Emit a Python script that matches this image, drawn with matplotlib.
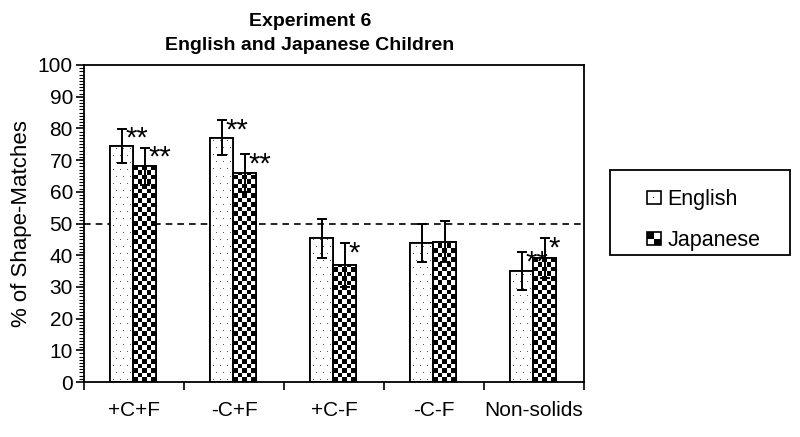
import numpy as np
import matplotlib
matplotlib.use("Agg")
import matplotlib.pyplot as plt
from matplotlib.patches import Rectangle
from matplotlib.legend_handler import HandlerBase

plt.rcParams['font.family'] = ['Liberation Sans', 'DejaVu Sans']

categories = ["+C+F", "-C+F", "+C-F", "-C-F", "Non-solids"]
english = [74.4, 77.1, 45.3, 43.7, 35.0]
english_err = [5.4, 5.4, 6.2, 6.0, 5.9]
japanese = [68.1, 65.8, 36.9, 44.3, 39.0]
japanese_err = [5.8, 6.0, 6.8, 6.5, 6.3]
english_sig = ["**", "**", "", "", "**"]
japanese_sig = ["**", "**", "*", "", "*"]
chance = 50
yticks = list(range(0, 101, 10))

fig = plt.figure(figsize=(8, 4.37), dpi=100)
ax = fig.add_axes([84/800, 1-382/437, 500/800, 317/437])

x = np.arange(len(categories))
w = 0.23
xe = x - 0.125
xj = x + 0.105

bars_e = ax.bar(xe, english, w, facecolor='white', edgecolor='black',
                linewidth=1.3, zorder=2)
bars_j = ax.bar(xj, japanese, w, facecolor='white', edgecolor='black',
                linewidth=1.3, zorder=2)

px_per_unit_y = 317 / 100
px_per_unit_x = 500 / len(categories)


def texture(bar, kind):
    x0 = bar.get_x(); bw = bar.get_width(); h = bar.get_height()
    if kind == 'checker':
        cell = 4.6
        ncol = 5
        nrow = int(np.ceil(h * px_per_unit_y / cell))
        ii, jj = np.indices((nrow, ncol))
        arr = ((ii + jj) % 2).astype(float)
        top = nrow * cell / px_per_unit_y
    else:
        ncol = int(round(bw * px_per_unit_x))
        nrow = int(np.ceil(h * px_per_unit_y))
        arr = np.ones((nrow, ncol))
        step = 7
        for r in range(2, nrow, step):
            off = 3 if (r // step) % 2 == 0 else 6
            for c in range(off, ncol, step):
                arr[r, c] = 0.35
        top = nrow / px_per_unit_y
    im = ax.imshow(arr, cmap='gray', extent=(x0, x0 + bw, 0, top),
                   origin='lower', interpolation='nearest', aspect='auto',
                   zorder=2.5, vmin=0, vmax=1)
    im.set_clip_path(bar)
    ax.add_patch(Rectangle((x0, 0), bw, h, fill=False, edgecolor='black',
                           linewidth=1.3, zorder=2.6))


for b in bars_e:
    texture(b, 'dots')
for b in bars_j:
    texture(b, 'checker')

ax.errorbar(xe, english, yerr=english_err, fmt='none', ecolor='black',
            elinewidth=1.4, capsize=3.5, capthick=1.4, zorder=3)
ax.errorbar(xj, japanese, yerr=japanese_err, fmt='none', ecolor='black',
            elinewidth=1.4, capsize=3.5, capthick=1.4, zorder=3)

for xs, vals, errs, sigs in [(xe, english, english_err, english_sig),
                             (xj, japanese, japanese_err, japanese_sig)]:
    for xi, v, e, s in zip(xs, vals, errs, sigs):
        if s:
            ax.annotate(s, xy=(xi, v + e), xytext=(2.5, -7), textcoords='offset points',
                        ha='left', va='center', fontsize=21, zorder=4)

ax.axhline(chance, color='black', linestyle=(0, (4, 3)), linewidth=1.2, zorder=1)

ax.set_xlim(-0.5, len(categories) - 0.5)
ax.set_ylim(0, 100)
ax.set_yticks(yticks)
ax.set_yticks(np.arange(0, 101, 1), minor=True)
ax.tick_params(axis='y', which='major', direction='out', length=6, width=1.2, labelsize=15, pad=2)
ax.tick_params(axis='y', which='minor', direction='out', length=3.5, width=0.8)
ax.set_xticks(np.arange(-0.5, len(categories), 1))
ax.set_xticklabels([])
ax.set_xticks(x, minor=True)
ax.set_xticklabels(categories, minor=True)
ax.tick_params(axis='x', which='major', direction='out', length=6, width=1.2)
ax.tick_params(axis='x', which='minor', length=0, labelsize=15, pad=14)
for sp in ax.spines.values():
    sp.set_linewidth(1.3)

ax.set_ylabel("% of Shape-Matches", fontsize=16, labelpad=4)

fig.text(310/800, 1 - 22/437, "Experiment 6", ha='center', va='center',
         fontsize=14, fontweight='bold')
fig.text(310/800, 1 - 45/437, "English and Japanese Children", ha='center', va='center',
         fontsize=14, fontweight='bold')


class SquareHandler(HandlerBase):
    def __init__(self, checker):
        super().__init__()
        self.checker = checker

    def create_artists(self, legend, orig_handle, xdescent, ydescent, width, height,
                       fontsize, trans):
        s = min(width, height) * 0.85
        x0 = -xdescent + (width - s) / 2
        y0 = -ydescent + (height - s) / 2
        arts = [Rectangle((x0, y0), s, s, facecolor='white', edgecolor='black',
                          linewidth=1.2, transform=trans)]
        if self.checker:
            h = s / 2
            arts.append(Rectangle((x0, y0 + h), h, h, facecolor='black',
                                  edgecolor='none', transform=trans))
            arts.append(Rectangle((x0 + h, y0), h, h, facecolor='black',
                                  edgecolor='none', transform=trans))
        else:
            arts.append(Rectangle((x0 + s * 0.45, y0 + s * 0.45), s * 0.1, s * 0.1,
                                  facecolor='black', edgecolor='none', transform=trans))
        return arts

# legend frame
fig.patches.append(Rectangle((610/800, 1 - 255/437), 180/800, 85/437, fill=False,
                             edgecolor='black', linewidth=1.3, transform=fig.transFigure))
leg = fig.legend([bars_e, bars_j], ["English", "Japanese"],
                 handler_map={bars_e: SquareHandler(False), bars_j: SquareHandler(True)},
                 loc='center', bbox_to_anchor=(703/800, 1 - 220/437), frameon=False,
                 fontsize=15.5, handlelength=0.75, handleheight=0.75, handletextpad=0.25,
                 labelspacing=0.95)

fig.savefig("out.png", dpi=100)
